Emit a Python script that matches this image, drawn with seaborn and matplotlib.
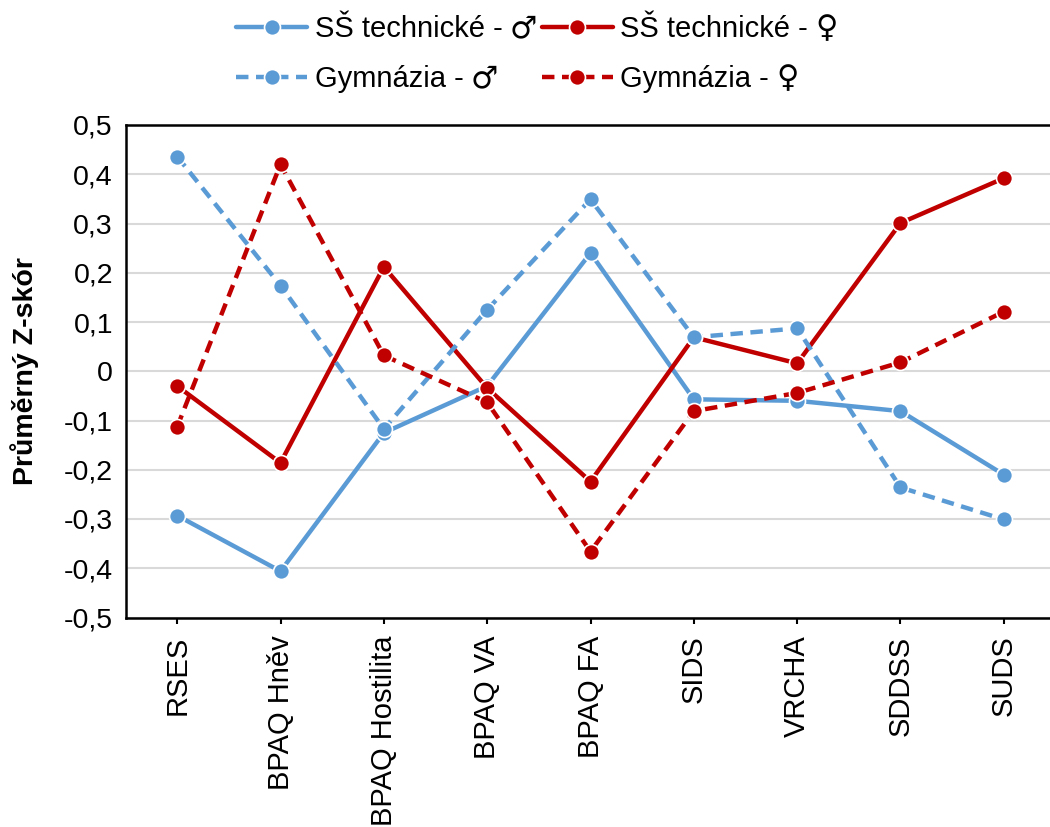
import matplotlib
matplotlib.use("Agg")
import matplotlib.pyplot as plt
import seaborn as sns
import pandas as pd

categories = ["RSES", "BPAQ Hněv", "BPAQ Hostilita", "BPAQ VA", "BPAQ FA",
              "SIDS", "VRCHA", "SDDSS", "SUDS"]

tech_male = [-0.293, -0.406, -0.125, -0.030, 0.240, -0.057, -0.060, -0.081, -0.210]
tech_female = [-0.030, -0.186, 0.212, -0.034, -0.224, 0.069, 0.016, 0.301, 0.392]
gym_male = [0.436, 0.174, -0.117, 0.125, 0.349, 0.069, 0.087, -0.236, -0.301]
gym_female = [-0.113, 0.420, 0.032, -0.063, -0.366, -0.081, -0.044, 0.018, 0.121]

school_types = ["SŠ technické", "Gymnázia"]
sex_symbols = ["♂", "♀"]

yticks = [-0.5, -0.4, -0.3, -0.2, -0.1, 0.0, 0.1, 0.2, 0.3, 0.4, 0.5]
ytick_labels = ["-0,5", "-0,4", "-0,3", "-0,2", "-0,1", "0", "0,1", "0,2", "0,3", "0,4", "0,5"]

# series in legend order: row 1 technical schools, row 2 grammar schools
series = [
    (school_types[0], sex_symbols[0], tech_male),
    (school_types[0], sex_symbols[1], tech_female),
    (school_types[1], sex_symbols[0], gym_male),
    (school_types[1], sex_symbols[1], gym_female),
]

blue = "#5B9BD5"
red = "#C00000"
sex_colors = {"♂": blue, "♀": red}
dashed_school = {"SŠ technické": False, "Gymnázia": True}

sns.set_style("white")
plt.rcParams["font.family"] = ["Liberation Sans", "DejaVu Sans"]
plt.rcParams["text.color"] = "black"
plt.rcParams["xtick.color"] = "black"
plt.rcParams["ytick.color"] = "black"
plt.rcParams["axes.labelcolor"] = "black"

fig = plt.figure(figsize=(10.5, 8.27), dpi=100)
ax = fig.add_axes([125.5 / 1050, 1 - 617.5 / 827, 930 / 1050, 492.5 / 827])

handles = {}
for school, sex, vals in series:
    df = pd.DataFrame({"cat": categories, "val": vals})
    n_before = len(ax.lines)
    sns.lineplot(data=df, x="cat", y="val", ax=ax, sort=False,
                 color=sex_colors[sex], lw=3.2, marker="o", markersize=11.5,
                 markeredgecolor="white", markeredgewidth=1.2,
                 label=f"{school} -")
    line = ax.lines[n_before]
    if dashed_school[school]:
        line.set_dashes((2.8, 1.7))
    handles[(school, sex)] = line

ax.set_xlim(-0.5, len(categories) - 0.5)
ax.set_ylim(-0.5, 0.5)
ax.set_yticks(yticks)
ax.set_yticklabels(ytick_labels)
ax.yaxis.grid(True, color="#D9D9D9", lw=1.5)
ax.set_axisbelow(True)

for side in ["left", "top", "bottom", "right"]:
    ax.spines[side].set_color("black")
    ax.spines[side].set_linewidth(1.8)

ax.tick_params(axis="x", rotation=90, labelsize=21, length=4, width=1.5,
               direction="out", bottom=True, pad=9)
ax.tick_params(axis="y", labelsize=20.5, length=0, pad=9)
ax.set_xlabel("")
ax.set_ylabel("Průměrný Z-skór", fontsize=20.5, fontweight="bold", labelpad=18)

# matplotlib fills legend columns first, so interleave to get rows by school type
order = [(school_types[0], "♂"), (school_types[1], "♂"),
         (school_types[0], "♀"), (school_types[1], "♀")]
leg = ax.legend([handles[k] for k in order], [f"{k[0]} -" for k in order],
                loc="upper center", bbox_to_anchor=(522 / 1050, 1 - 12 / 827),
                bbox_transform=fig.transFigure, ncol=2, frameon=False,
                fontsize=21, handlelength=2.45, handletextpad=0.25,
                columnspacing=1.35, labelspacing=0.75, borderaxespad=0,
                borderpad=0.1)

# sex symbols drawn after each legend label in a font with full-size glyphs
fig.canvas.draw()
renderer = fig.canvas.get_renderer()
W, H = fig.bbox.width, fig.bbox.height
for (school, sex), txt in zip(order, leg.get_texts()):
    bb = txt.get_window_extent(renderer)
    fig.text((bb.x1 + 7) / W, (bb.y0 + bb.y1) / 2 / H, sex,
             family=["DejaVu Sans"], fontsize=22, ha="left", va="center",
             color="black")

fig.savefig("out.png", dpi=100)
